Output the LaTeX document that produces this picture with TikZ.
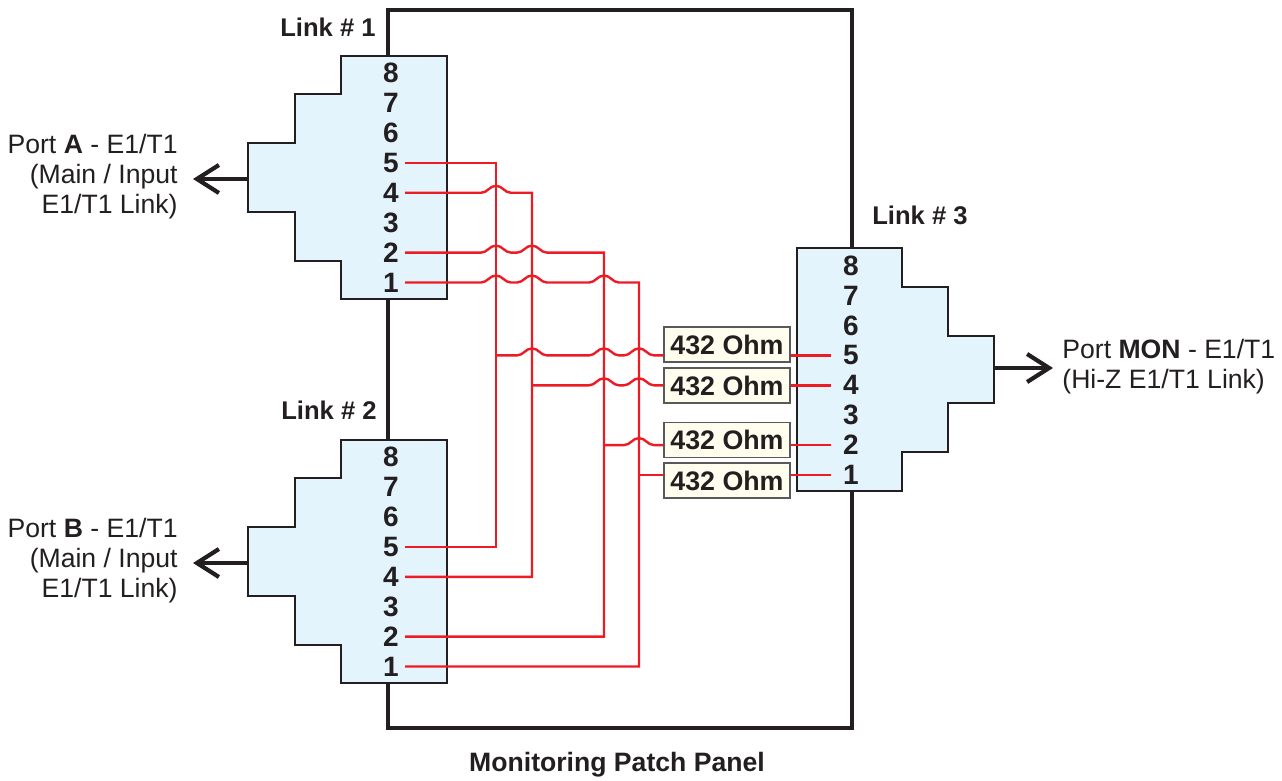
\documentclass[tikz,border=0pt]{standalone}
\usepackage{fontspec}
\setmainfont{Liberation Sans}
\usetikzlibrary{arrows.meta,calc}

\definecolor{wirered}{RGB}{237,28,36}
\definecolor{jackblue}{RGB}{228,244,252}
\definecolor{ohmcream}{RGB}{255,253,238}
\definecolor{inkblack}{RGB}{35,31,32}

\tikzset{
  wire/.style={draw=wirered,line width=1.2pt},
  hop/.style={insert path={to[out=0,in=180] ++(15,-7) to[out=0,in=180] ++(15,7)}},
  jack/.style={draw=inkblack,fill=jackblue,line width=1.1pt},
  pin/.style={font=\fontsize{14}{15}\selectfont\bfseries,text=inkblack,inner xsep=3pt,inner ysep=1pt},
  ohm/.style={draw=black!65,fill=ohmcream,line width=0.8pt,minimum width=63pt,minimum height=17.5pt,inner sep=0,
    font=\fontsize{13.4}{15}\selectfont\bfseries,text=inkblack},
  linklabel/.style={font=\fontsize{12.8}{15}\selectfont\bfseries,text=inkblack},
  porttext/.style={font=\fontsize{13.3}{15}\selectfont,text=inkblack,inner sep=0},
  portarrow/.style={draw=inkblack,line width=2.1pt,-{Straight Barb[length=11pt,width=14pt]}}
}

\begin{document}
\begin{tikzpicture}[x=0.5pt,y=-0.5pt]
  \useasboundingbox (0,0) rectangle (1282,781);

  % patch panel frame
  \draw[draw=inkblack,line width=2.2pt] (388,10) rectangle (852,728);
  \node[font=\fontsize{13.3}{15}\selectfont\bfseries,text=inkblack] (panel) at (617,765) {Monitoring Patch Panel};

  % input jacks (Link 1 and Link 2)
  \foreach \n/\dy in {A/0,B/384} {
    \draw[jack] (341,56+\dy) -- (447,56+\dy) -- (447,299+\dy) -- (341,299+\dy) -- (341,261+\dy)
      -- (295,261+\dy) -- (295,212+\dy) -- (248,212+\dy) -- (248,143+\dy) -- (295,143+\dy)
      -- (295,94+\dy) -- (341,94+\dy) -- cycle;
    \coordinate (jack\n) at (248,179+\dy);
    \node[porttext,anchor=east,align=right] (port\n) at (178,177+\dy)
      {Port \textbf{\n} - E1/T1\\(Main / Input\\E1/T1 Link)};
    \draw[portarrow,shorten >=7.5pt] (jack\n) -- (port\n.east |- jack\n);
  }

  % monitor jack (Link 3)
  \draw[jack] (797,248) -- (902,248) -- (902,287) -- (948,287) -- (948,336) -- (994,336)
    -- (994,403) -- (948,403) -- (948,452) -- (902,452) -- (902,491) -- (797,491) -- cycle;
  \coordinate (jackM) at (994,368);
  \node[porttext,anchor=west,align=left] (portM) at (1062,367)
    {Port \textbf{MON} - E1/T1\\(Hi-Z E1/T1 Link)};
  \draw[portarrow,shorten >=4.5pt] (jackM) -- (portM.west |- jackM);

  \node[linklabel] (link1) at (328,27) {Link \# 1};
  \node[linklabel] (link2) at (329,410) {Link \# 2};
  \node[linklabel] (link3) at (920,215) {Link \# 3};

  % pin numbers
  \foreach \k in {1,...,8} {
    \pgfmathsetmacro\py{282.5-(\k-1)*29.9}
    \node[pin] (a\k) at (391,\py) {\k};
    \node[pin] (b\k) at (391,\py+384) {\k};
    \node[pin,inner xsep=6pt] (m\k) at (851,\py+192.5) {\k};
  }

  % resistors
  \node[ohm] (r5) at (727,344.5) {432 Ohm};
  \node[ohm] (r4) at (727,385.5) {432 Ohm};
  \node[ohm] (r2) at (727,440) {432 Ohm};
  \node[ohm] (r1) at (727,480.5) {432 Ohm};

  % wiring columns
  \coordinate (c5) at (496,0);
  \coordinate (c4) at (532,0);
  \coordinate (c2) at (604,0);
  \coordinate (c1) at (639,0);

  \draw[wire] (a5.east) -- (c5 |- a5.east) -- (c5 |- b5.east) -- (b5.east);
  \draw[wire] (a4.east) -- ($(c5 |- a4.east)+(-15,0)$) [hop] -- (c4 |- a4.east) -- (c4 |- b4.east) -- (b4.east);
  \draw[wire] (a2.east) -- ($(c5 |- a2.east)+(-15,0)$) [hop] -- ($(c4 |- a2.east)+(-15,0)$) [hop]
    -- (c2 |- a2.east) -- (c2 |- b2.east) -- (b2.east);
  \draw[wire] (a1.east) -- ($(c5 |- a1.east)+(-15,0)$) [hop] -- ($(c4 |- a1.east)+(-15,0)$) [hop]
    -- ($(c2 |- a1.east)+(-15,0)$) [hop] -- (c1 |- a1.east) -- (c1 |- b1.east) -- (b1.east);

  \draw[wire] (c5 |- m5) -- ($(c4 |- m5)+(-15,0)$) [hop] -- ($(c2 |- m5)+(-15,0)$) [hop]
    -- ($(c1 |- m5)+(-15,0)$) [hop] -- (r5.west |- m5);
  \draw[wire] (c4 |- m4) -- ($(c2 |- m4)+(-15,0)$) [hop] -- ($(c1 |- m4)+(-15,0)$) [hop] -- (r4.west |- m4);
  \draw[wire] (c2 |- m2) -- ($(c1 |- m2)+(-15,0)$) [hop] -- (r2.west |- m2);
  \draw[wire] (c1 |- m1) -- (r1.west |- m1);

  \foreach \k in {5,4,2,1} {
    \draw[wire] (r\k.east |- m\k) -- (m\k.west);
  }
\end{tikzpicture}
\end{document}
